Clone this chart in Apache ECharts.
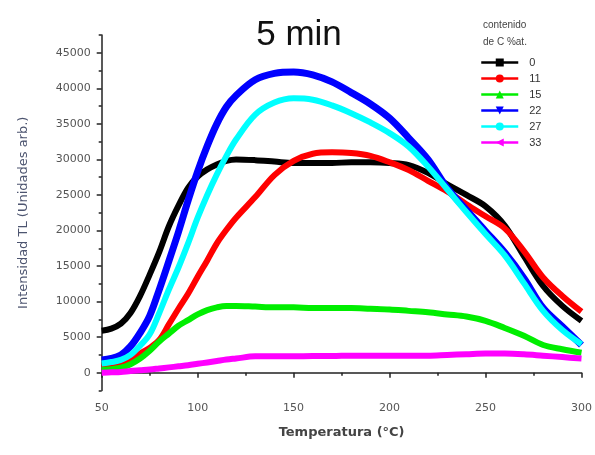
<!DOCTYPE html>
<html>
<head>
<meta charset="utf-8">
<script src="https://cdn.jsdelivr.net/npm/echarts@6/dist/echarts.min.js"></script>
<style>
  html, body { margin: 0; padding: 0; background: #fff; }
  #chart { width: 595px; height: 455px; }
</style>
</head>
<body>
<div id="chart"></div>
<script>
// Temperature sampling points (°C)
const temps = [50, 55, 60, 65, 70, 75, 80, 85, 90, 95, 100, 105, 110, 115, 120,
  130, 140, 150, 160, 170, 180, 190, 200, 210, 220, 230, 240, 250, 260, 270, 280, 290, 300];

// TL intensity (arb. units) for each carbon content (% at.)
const c0 = [5900, 6200, 6900, 8400, 10800, 13800, 17000, 20600, 23500, 26000, 27600, 28600, 29300, 29800, 30000,
  29900, 29700, 29500, 29500, 29500, 29600, 29600, 29500, 29200, 28100, 26500, 25000, 23400, 20700, 16400, 12200, 9400, 7300];
const c11 = [700, 900, 1300, 1900, 2700, 3500, 4600, 6800, 9000, 11100, 13500, 15800, 18200, 20100, 21800,
  24700, 27800, 29800, 30800, 31000, 30900, 30500, 29600, 28500, 27000, 25500, 23700, 22000, 20300, 17100, 13400, 10800, 8600];
const c15 = [400, 500, 700, 1200, 2000, 3100, 4400, 5500, 6600, 7400, 8200, 8800, 9200, 9400, 9400,
  9300, 9200, 9200, 9100, 9100, 9100, 9000, 8900, 8700, 8500, 8200, 7900, 7300, 6300, 5200, 3900, 3300, 2800];
const c22 = [1800, 2000, 2500, 3700, 5600, 8000, 11700, 15700, 19800, 24200, 28300, 31900, 35000, 37400, 39000,
  41200, 42100, 42300, 41900, 40900, 39400, 37800, 35800, 33000, 30000, 26000, 22900, 19900, 16900, 13300, 9100, 6500, 3900];
const c27 = [1300, 1500, 1800, 2500, 3800, 5400, 8400, 11700, 14800, 18200, 21800, 25000, 27900, 30500, 32800,
  36300, 38000, 38600, 38400, 37600, 36500, 35200, 33700, 31800, 29000, 25800, 22600, 19500, 16500, 12600, 8700, 6000, 4000];
const c33 = [0, 50, 100, 250, 350, 450, 600, 750, 900, 1050, 1250, 1450, 1650, 1850, 2000,
  2300, 2300, 2300, 2350, 2350, 2400, 2400, 2400, 2400, 2400, 2500, 2600, 2700, 2700, 2600, 2400, 2200, 2000];

const seriesNames = ['0', '11', '15', '22', '27', '33'];
const seriesValues = [c0, c11, c15, c22, c27, c33];
const seriesColors = ['#000000', '#ff0000', '#00ee00', '#0000ff', '#00ffff', '#ff00ff'];
const seriesSymbols = ['rect', 'circle', 'triangle', 'triangle', 'circle', 'triangle'];
const seriesRotate = [0, 0, 0, 180, 0, 90];

// Tick positions
const yMajor = [0, 5000, 10000, 15000, 20000, 25000, 30000, 35000, 40000, 45000];
const yMinor = [-2500, 2500, 7500, 12500, 17500, 22500, 27500, 32500, 37500, 42500, 47500];
const xMajor = [50, 100, 150, 200, 250, 300];
const xMinor = [75, 125, 175, 225, 275];

const axisColor = '#222';
const labelColor = '#555';

const chart = echarts.init(document.getElementById('chart'), null, { renderer: 'canvas' });

const series = seriesNames.map((name, i) => ({
  name: name,
  type: 'line',
  xAxisIndex: 0,
  yAxisIndex: 0,
  data: temps.map((t, k) => [t, seriesValues[i][k]]),
  smooth: 0.35,
  showSymbol: false,
  symbol: seriesSymbols[i],
  symbolRotate: seriesRotate[i],
  symbolSize: 8,
  color: seriesColors[i],
  lineStyle: { width: i === 3 ? 7 : 6, color: seriesColors[i] },
  itemStyle: { color: seriesColors[i] },
  emphasis: { disabled: true },
  animation: false
}));

const baseY = {
  type: 'value',
  min: -2500,
  max: 47500,
  position: 'left',
  splitLine: { show: false }
};
const baseX = {
  type: 'value',
  min: 50,
  max: 300,
  position: 'bottom',
  splitLine: { show: false }
};

chart.setOption({
  animation: false,
  backgroundColor: '#ffffff',
  grid: { left: 101.7, right: 13.3, top: 35, bottom: 64.5, containLabel: false },
  title: {
    text: '5 min',
    left: 294,
    top: 13,
    textAlign: 'center',
    textStyle: { fontFamily: 'Liberation Sans', fontSize: 35, fontWeight: 'normal', color: '#111' }
  },
  legend: {
    orient: 'vertical',
    left: 480,
    top: 57,
    padding: 0,
    itemWidth: 37,
    itemHeight: 10,
    itemGap: 5,
    data: seriesNames,
    lineStyle: { width: 2.5 },
    textStyle: { fontFamily: 'Liberation Sans', fontSize: 11, lineHeight: 10, color: '#333', padding: [0, 0, 0, 6] }
  },
  graphic: [
    { type: 'text', left: 483, top: 20, style: { text: 'contenido', font: '10px "Liberation Sans"', fill: '#444' } },
    { type: 'text', left: 483, top: 37, style: { text: 'de C %at.', font: '10px "Liberation Sans"', fill: '#444' } }
  ],
  xAxis: [
    Object.assign({}, baseX, {
      name: 'Temperatura (°C)',
      nameLocation: 'middle',
      nameGap: 36,
      nameTextStyle: { fontFamily: 'DejaVu Sans', fontSize: 13, fontWeight: 'bold', color: '#444' },
      axisLine: { show: true, lineStyle: { color: axisColor, width: 1.5 } },
      axisTick: { show: true, length: 5, inside: false, customValues: xMajor, lineStyle: { color: axisColor, width: 1.5 } },
      axisLabel: { show: true, margin: 12, customValues: xMajor, formatter: v => String(v), fontFamily: 'DejaVu Sans', fontSize: 11, color: labelColor }
    }),
    Object.assign({}, baseX, {
      axisLine: { show: false },
      axisTick: { show: true, length: 3, inside: false, customValues: xMinor, lineStyle: { color: axisColor, width: 1.5 } },
      axisLabel: { show: false }
    })
  ],
  yAxis: [
    Object.assign({}, baseY, {
      name: 'Intensidad TL (Unidades arb.)',
      nameLocation: 'middle',
      nameGap: 72,
      nameTextStyle: { fontFamily: 'DejaVu Sans', fontSize: 13, color: '#4d5570' },
      axisLine: { show: true, lineStyle: { color: axisColor, width: 1.5 } },
      axisTick: { show: true, length: 5, inside: false, customValues: yMajor, lineStyle: { color: axisColor, width: 1.5 } },
      axisLabel: { show: true, margin: 11, customValues: yMajor, formatter: v => String(v), fontFamily: 'DejaVu Sans', fontSize: 11, color: labelColor }
    }),
    Object.assign({}, baseY, {
      axisLine: { show: false },
      axisTick: { show: true, length: 3, inside: false, customValues: yMinor, lineStyle: { color: axisColor, width: 1.5 } },
      axisLabel: { show: false }
    })
  ],
  series: series
});
</script>
</body>
</html>
